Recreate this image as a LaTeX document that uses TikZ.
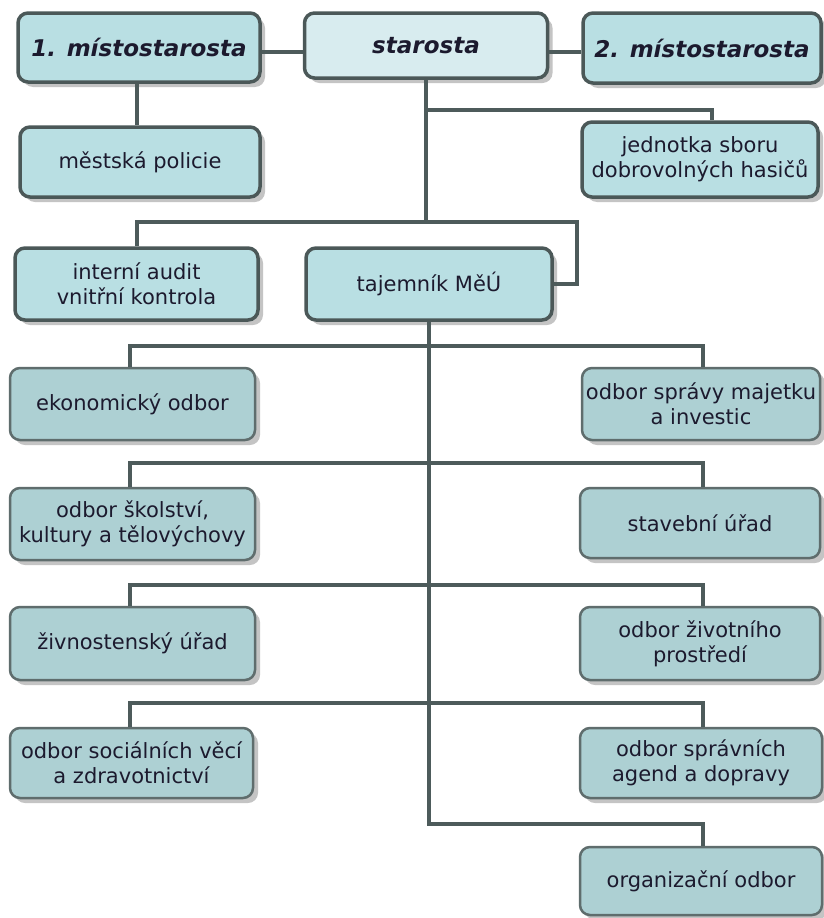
\documentclass[tikz,border=0pt]{standalone}
\usepackage{fontspec}
\setmainfont{DejaVu Sans}
\usetikzlibrary{shadows}
\definecolor{bordA}{HTML}{4B5858}
\definecolor{bordB}{HTML}{5F6D6D}
\definecolor{fillA}{HTML}{B9DFE3}
\definecolor{fillS}{HTML}{D8ECEF}
\definecolor{fillB}{HTML}{ADD0D3}
\definecolor{linec}{HTML}{4D5B5B}
\definecolor{txt}{HTML}{1C1A2E}
\definecolor{shad}{HTML}{C4C4C4}
\begin{document}
\begin{tikzpicture}[x=1pt,y=-1pt,
  box/.style={draw=bordA, fill=fillA, line width=3.5pt, rounded corners=10pt,
    align=center, inner sep=0pt, text=txt, font=\fontsize{21}{25}\selectfont,
    drop shadow={shadow xshift=5pt, shadow yshift=-5pt, fill=shad, opacity=1, draw=none}},
  lowbox/.style={box, draw=bordB, fill=fillB, line width=2.5pt},
  headbox/.style={box, font=\fontsize{23}{28}\selectfont\bfseries\itshape},
  conn/.style={draw=linec, line width=3.5pt}]
\fill[white] (0,0) rectangle (823,918);
\useasboundingbox (0,0) rectangle (823,918);

% top level
\node[headbox, minimum width=242, minimum height=69] (m1) at (139,47.5) {1. místostarosta};
\node[headbox, fill=fillS, minimum width=243, minimum height=65] (st) at (426,45.5) {starosta};
\node[headbox, minimum width=238, minimum height=70] (m2) at (702,48) {2. místostarosta};

\node[box, minimum width=240, minimum height=70] (pol) at (140,162) {městská policie};
\node[box, minimum width=236, minimum height=75] (has) at (700,159.5) {jednotka sboru\\dobrovolných hasičů};
\node[box, minimum width=243, minimum height=72] (aud) at (136.5,284) {interní audit\\vnitřní kontrola};
\node[box, minimum width=246, minimum height=72] (taj) at (429,284) {tajemník MěÚ};

% departments
\node[lowbox, minimum width=245, minimum height=72] (eko) at (132.5,404) {ekonomický odbor};
\node[lowbox, minimum width=238, minimum height=72] (maj) at (701,404) {odbor správy majetku\\a investic};
\node[lowbox, minimum width=245, minimum height=72] (sko) at (132.5,524) {odbor školství,\\kultury a tělovýchovy};
\node[lowbox, minimum width=240, minimum height=70] (sta) at (700,523) {stavební úřad};
\node[lowbox, minimum width=245, minimum height=73] (ziv) at (132.5,643.5) {živnostenský úřad};
\node[lowbox, minimum width=240, minimum height=73] (zp) at (700,643.5) {odbor životního\\prostředí};
\node[lowbox, minimum width=243, minimum height=70] (soc) at (131.5,763) {odbor sociálních věcí\\a zdravotnictví};
\node[lowbox, minimum width=242, minimum height=70] (spr) at (701,763) {odbor správních\\agend a dopravy};
\node[lowbox, minimum width=242, minimum height=68] (org) at (701,881) {organizační odbor};

% coordinates
\coordinate (stb) at (426,222);
\coordinate (hasr) at (712,110);
\coordinate (tajr) at (577,284);
\coordinate (r5) at (429,824);

% connectors
\draw[conn] (m1.east |- 0,52) -- (st.west |- 0,52);
\draw[conn] (st.east |- 0,52) -- (m2.west |- 0,52);
\draw[conn] (137,0 |- m1.south) -- (137,0 |- pol.north);
\draw[conn] (st.south) -- (stb);
\draw[conn] (426,110) -- (hasr) -- (hasr |- has.north);
\draw[conn] (137,0 |- aud.north) -- (137,222) -- (577,222) -- (tajr) -- (taj.east);
\draw[conn] (taj.south) -- (r5) -- (703,824) -- (703,0 |- org.north);
\draw[conn] (130,0 |- eko.north) -- (130,346) -- (703,346) -- (703,0 |- maj.north);
\draw[conn] (130,0 |- sko.north) -- (130,463) -- (703,463) -- (703,0 |- sta.north);
\draw[conn] (130,0 |- ziv.north) -- (130,585) -- (703,585) -- (703,0 |- zp.north);
\draw[conn] (130,0 |- soc.north) -- (130,703) -- (703,703) -- (703,0 |- spr.north);
\end{tikzpicture}
\end{document}
